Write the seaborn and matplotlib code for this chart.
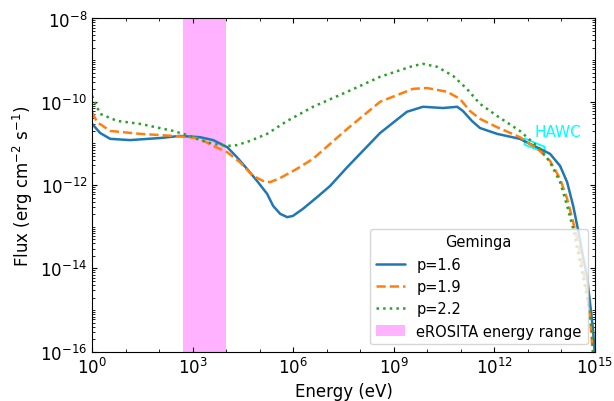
"""
Geminga SED for three injection indices, with the eROSITA band and HAWC bowtie.
"""
import matplotlib
matplotlib.use("Agg")
import matplotlib.pyplot as plt
from matplotlib.ticker import LogLocator, NullFormatter
import numpy as np
import pandas as pd
import seaborn as sns

# log10 energy (eV) / log10 flux (erg cm^-2 s^-1)
logE_p16 = [0.00, 0.24, 0.54, 1.13, 2.03, 2.62, 3.22, 3.61, 4.03, 4.32, 4.62, 4.92,
            5.22, 5.40, 5.61, 5.82, 5.99, 6.29, 6.71, 7.10, 7.61, 8.59, 9.39, 9.87,
            10.47, 10.89, 11.06, 11.33, 11.57, 12.08, 12.76, 13.36, 13.66, 13.96,
            14.17, 14.35, 14.49, 14.64, 14.76, 14.85, 14.94, 15.00]
logF_p16 = [-10.53, -10.75, -10.89, -10.92, -10.87, -10.82, -10.85, -10.92, -11.09,
            -11.33, -11.61, -11.90, -12.21, -12.50, -12.69, -12.77, -12.74, -12.57,
            -12.29, -12.02, -11.57, -10.75, -10.24, -10.12, -10.15, -10.12, -10.22,
            -10.46, -10.63, -10.77, -10.89, -11.13, -11.25, -11.54, -11.93, -12.50,
            -13.05, -13.70, -14.18, -14.81, -15.45, -16.10]

logE_p19 = [0.00, 0.15, 0.54, 1.43, 2.42, 2.92, 3.22, 3.61, 4.03, 4.41, 4.80, 5.10,
            5.31, 5.61, 6.11, 6.59, 7.10, 7.61, 8.59, 9.57, 9.99, 10.59, 10.97, 11.27,
            11.57, 12.08, 12.76, 13.36, 13.66, 13.96, 14.17, 14.35, 14.49, 14.64,
            14.76, 14.85, 14.91, 15.00]
logF_p19 = [-10.25, -10.49, -10.70, -10.77, -10.82, -10.85, -10.89, -11.06, -11.21,
            -11.45, -11.78, -11.90, -11.93, -11.83, -11.61, -11.37, -11.01, -10.65,
            -10.00, -9.69, -9.67, -9.76, -9.93, -10.22, -10.41, -10.61, -10.85,
            -11.18, -11.42, -11.85, -12.33, -12.89, -13.37, -14.02, -14.57, -15.14,
            -15.77, -16.60]

logE_p22 = [0.00, 0.24, 0.75, 1.43, 2.42, 2.92, 3.22, 3.61, 4.03, 4.32, 4.71, 5.22,
            5.82, 6.59, 7.61, 8.59, 9.57, 9.87, 10.29, 10.77, 11.18, 11.57, 12.08,
            12.76, 13.36, 13.66, 13.96, 14.17, 14.35, 14.49, 14.64, 14.79, 14.91,
            15.00]
logF_p22 = [-9.86, -10.29, -10.46, -10.53, -10.70, -10.82, -10.92, -11.01, -11.06,
            -11.04, -10.94, -10.77, -10.46, -10.12, -9.76, -9.40, -9.14, -9.09,
            -9.16, -9.38, -9.69, -10.05, -10.34, -10.70, -11.13, -11.45, -11.93,
            -12.50, -13.05, -13.61, -14.18, -14.81, -15.45, -16.80]

# eROSITA band (eV)
erosita_band = [500, 1.0e4]

# HAWC bowtie: log10 energy, upper / lower log10 flux
hawc_logE = [12.90, 13.50]
hawc_upper = [-10.88, -11.08]
hawc_lower = [-11.03, -11.22]

series = [
    ("p=1.6", logE_p16, logF_p16, "-"),
    ("p=1.9", logE_p19, logF_p19, "--"),
    ("p=2.2", logE_p22, logF_p22, ":"),
]

sns.set_style("ticks")
plt.rcParams.update({
    "font.family": ["DejaVu Sans"],
    "font.size": 11,
    "axes.edgecolor": "black",
    "axes.labelcolor": "black",
    "text.color": "black",
    "xtick.color": "black",
    "ytick.color": "black",
    "xtick.direction": "in",
    "ytick.direction": "in",
    "xtick.top": True,
    "ytick.right": True,
    "xtick.labelsize": 12,
    "ytick.labelsize": 12,
    "axes.labelsize": 12,
    "legend.fontsize": 10.5,
})

fig = plt.figure(figsize=(6.14, 4.02), dpi=100)
ax = fig.add_axes([0.150, 0.1226, 0.819, 0.829])

palette = sns.color_palette("tab10")
for i, (label, le, lf, ls) in enumerate(series):
    df = pd.DataFrame({"E": np.power(10.0, le), "F": np.power(10.0, lf)})
    sns.lineplot(data=df, x="E", y="F", ax=ax, color=palette[i], linestyle=ls,
                 linewidth=1.8, label=label, sort=False)

ax.axvspan(erosita_band[0], erosita_band[1], color="magenta", alpha=0.3,
           linewidth=0, label="eROSITA energy range")

# HAWC bowtie outline
hE = np.power(10.0, hawc_logE)
ax.fill_between(hE, np.power(10.0, hawc_lower), np.power(10.0, hawc_upper),
                facecolor="none", edgecolor="cyan", linewidth=1.3)
ax.text(10 ** 13.2, 10 ** -10.72, "HAWC", color="cyan", fontsize=11, va="center")

ax.set_xscale("log")
ax.set_yscale("log")
ax.set_xlim(1, 1e15)
ax.set_ylim(1e-16, 1e-8)

ax.xaxis.set_major_locator(LogLocator(base=10, subs=(1.0,), numticks=6))
ax.xaxis.set_minor_locator(LogLocator(base=10, subs=(1.0,), numticks=20))
ax.xaxis.set_minor_formatter(NullFormatter())
ax.yaxis.set_major_locator(LogLocator(base=100, subs=(1.0,), numticks=10))
ax.yaxis.set_minor_locator(LogLocator(base=10, subs=np.arange(1, 10), numticks=100))
ax.yaxis.set_minor_formatter(NullFormatter())
ax.tick_params(which="both", direction="in", top=True, right=True)

ax.set_xlabel("Energy (eV)")
ax.set_ylabel(r"Flux (erg cm$^{-2}$ s$^{-1}$)")

ax.legend(title="Geminga", loc="lower right", title_fontsize=10.5)

fig.savefig("out.png", dpi=100)
